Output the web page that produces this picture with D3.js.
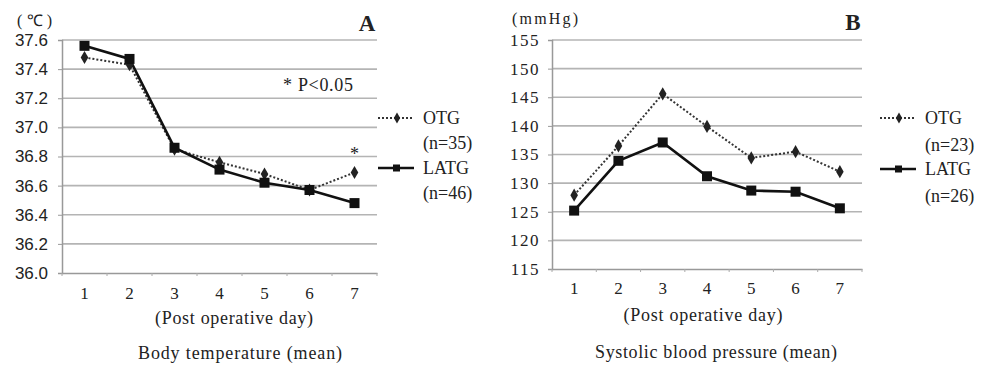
<!DOCTYPE html>
<html><head><meta charset="utf-8">
<script src="https://cdn.jsdelivr.net/npm/d3@7"></script>
<style>body{margin:0;background:#fff}svg{display:block}</style>
</head><body>
<svg id="c" width="987" height="366"></svg>
<script>
const days = ["1","2","3","4","5","6","7"];
const tempOTG  = [37.48, 37.43, 36.85, 36.76, 36.68, 36.57, 36.69];
const tempLATG = [37.56, 37.47, 36.86, 36.71, 36.62, 36.57, 36.48];
const tempTicks = [36.0, 36.2, 36.4, 36.6, 36.8, 37.0, 37.2, 37.4, 37.6];
const bpOTG  = [127.9, 136.5, 145.6, 139.9, 134.4, 135.5, 132.0];
const bpLATG = [125.2, 133.9, 137.1, 131.2, 128.7, 128.5, 125.6];
const bpTicks = [115, 120, 125, 130, 135, 140, 145, 150, 155];
const legendA = [["OTG","(n=35)"],["LATG","(n=46)"]];
const legendB = [["OTG","(n=23)"],["LATG","(n=26)"]];

const svg = d3.select("#c");
const serif = "'Liberation Serif','Times New Roman',serif";
const sans = "'Liberation Sans',Arial,sans-serif";

function panel(o){
  const g = svg.append("g");
  const x = d3.scaleBand().domain(days).range([o.x0, o.x1]);
  const y = d3.scaleLinear().domain([o.ticks[0], o.ticks[o.ticks.length-1]]).range([o.y0, o.y1]);
  g.selectAll(".grid").data(o.ticks.slice(1)).enter().append("line")
    .attr("x1", o.x0).attr("x2", o.x1).attr("y1", d=>y(d)).attr("y2", d=>y(d))
    .attr("stroke","#b4b4b4").attr("stroke-width",1.6);
  const ya = g.append("g").attr("transform",`translate(${o.x0},0)`)
    .call(d3.axisLeft(y).tickValues(o.ticks).tickFormat(o.fmt).tickSize(4).tickPadding(o.pad));
  ya.select(".domain").attr("stroke","#999").attr("stroke-width",1.5);
  ya.selectAll(".tick line").attr("stroke","#999");
  ya.selectAll("text").attr("font-family",o.tickFont).attr("font-size",o.tickSize)
    .attr("letter-spacing",o.ls).attr("fill","#222");
  const xa = g.append("g").attr("transform",`translate(0,${o.y0})`)
    .call(d3.axisBottom(x).tickSize(0).tickPadding(o.xpad));
  xa.select(".domain").attr("stroke","#999").attr("stroke-width",1.5);
  xa.selectAll("text").attr("font-family",serif).attr("font-size",17).attr("fill","#222");
  g.selectAll(".xt").data(days).enter().append("line")
    .attr("x1",d=>x(d)).attr("x2",d=>x(d)).attr("y1",o.y0).attr("y2",o.y0+3)
    .attr("stroke","#aaa");
  g.append("line").attr("x1",o.x1).attr("x2",o.x1).attr("y1",o.y0).attr("y2",o.y0+3).attr("stroke","#aaa");
  const cx = d=>x(d)+x.bandwidth()/2;
  const line = d3.line().x((d,i)=>cx(days[i])).y(d=>y(d));
  g.append("path").datum(o.otg).attr("d",line).attr("fill","none")
    .attr("stroke","#333").attr("stroke-width",2).attr("stroke-dasharray","2,2");
  g.append("path").datum(o.latg).attr("d",line).attr("fill","none")
    .attr("stroke","#111").attr("stroke-width",2.6);
  const diamond = d3.symbol().type(d3.symbolDiamond).size(50);
  g.selectAll(".do").data(o.otg).enter().append("path").attr("d",diamond)
    .attr("transform",(d,i)=>`translate(${cx(days[i])},${y(d)})`).attr("fill","#222");
  g.selectAll(".sq").data(o.latg).enter().append("rect")
    .attr("x",(d,i)=>cx(days[i])-5).attr("y",d=>y(d)-5).attr("width",10).attr("height",10)
    .attr("fill","#111");
  const L = o.leg;
  const lg = g.append("g");
  lg.append("line").attr("x1",L.x).attr("x2",L.x+36).attr("y1",L.y).attr("y2",L.y)
    .attr("stroke","#333").attr("stroke-width",2).attr("stroke-dasharray","2,2");
  lg.append("path").attr("d",d3.symbol().type(d3.symbolDiamond).size(35))
    .attr("transform",`translate(${L.x+19},${L.y})`).attr("fill","#222");
  lg.append("line").attr("x1",L.x).attr("x2",L.x+36).attr("y1",L.y+L.g2).attr("y2",L.y+L.g2)
    .attr("stroke","#111").attr("stroke-width",2.6);
  lg.append("rect").attr("x",L.x+15).attr("y",L.y+L.g2-3.5).attr("width",7).attr("height",7).attr("fill","#111");
  const lines = [o.legend[0][0], o.legend[0][1], o.legend[1][0], o.legend[1][1]];
  const ly = [0, L.g1, L.g2, L.g2+L.g1];
  lg.selectAll("text").data(lines).enter().append("text")
    .attr("x",L.x+45).attr("y",(d,i)=>L.y+ly[i]+6)
    .attr("font-family",serif).attr("font-size",18).attr("fill","#222").text(d=>d);
  return {x,y,cx,g};
}

const A = panel({x0:62,x1:377,y0:273,y1:40,ticks:tempTicks,fmt:d3.format(".1f"),
  tickFont:sans,tickSize:17,ls:0,pad:10,xpad:14,otg:tempOTG,latg:tempLATG,legend:legendA,
  leg:{x:378,y:118,g1:25,g2:50}});
const B = panel({x0:552,x1:862,y0:269,y1:40,ticks:bpTicks,fmt:d3.format("d"),
  tickFont:serif,tickSize:17,ls:1.5,pad:8,xpad:13,otg:bpOTG,latg:bpLATG,legend:legendB,
  leg:{x:880,y:118,g1:27,g2:51}});

function txt(x,y,s,opt={}){
  return svg.append("text").attr("x",x).attr("y",y).text(s)
    .attr("font-family",opt.f||serif).attr("font-size",opt.s||16)
    .attr("font-weight",opt.w||"normal").attr("text-anchor",opt.a||"start")
    .attr("fill","#222");
}
txt(17,26,"(℃)",{s:16}).attr("textLength",35);
txt(367,31,"A",{s:23,w:"bold",a:"middle"});
txt(283,91,"* P<0.05",{s:18}).attr("textLength",70);
txt(A.cx("7"),160,"*",{s:18,a:"middle"});
txt(234,324,"(Post operative day)",{s:18,a:"middle"}).attr("textLength",158);
txt(240,359,"Body temperature (mean)",{s:18,a:"middle"}).attr("textLength",204);
txt(512,24,"(mmHg)",{s:16}).attr("textLength",66);
txt(853,30,"B",{s:23,w:"bold",a:"middle"});
txt(703,321,"(Post operative day)",{s:18,a:"middle"}).attr("textLength",159);
txt(716,358,"Systolic blood pressure (mean)",{s:18,a:"middle"}).attr("textLength",242);
</script>
</body></html>
